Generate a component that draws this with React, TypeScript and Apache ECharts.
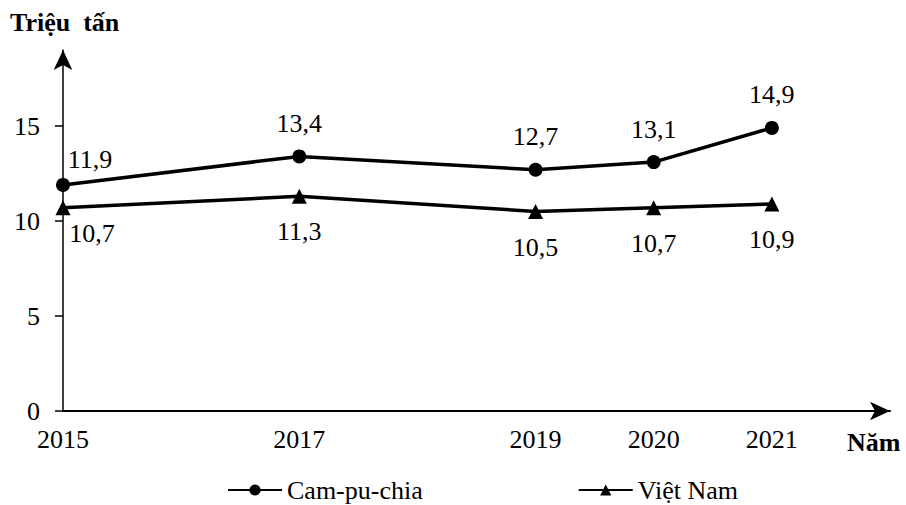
import React, { useEffect, useRef } from "react";
import * as echarts from "echarts";

const years = [2015, 2017, 2019, 2020, 2021];
const campuchia = [11.9, 13.4, 12.7, 13.1, 14.9];
const vietnam = [10.7, 11.3, 10.5, 10.7, 10.9];
const yTicks = [0, 5, 10, 15];
const seriesNames = ["Cam-pu-chia", "Việt Nam"];

const FONT = "Liberation Serif";

export default function App() {
  const ref = useRef<HTMLDivElement>(null);
  useEffect(() => {
    if (!ref.current) return;
    const chart = echarts.init(ref.current, null, { renderer: "svg" });
    const fmt = (v: number) => v.toFixed(1).replace(".", ",");
    const camData = years.map((y, i) => {
      const item: any = { value: [y, campuchia[i]] };
      if (i === 0) item.label = { offset: [27, 8] };
      return item;
    });
    const vnData = years.map((y, i) => {
      const item: any = { value: [y, vietnam[i]] };
      if (i === 0) item.label = { offset: [29, -10] };
      return item;
    });
    const txt = { color: "#000", fontSize: 26, fontFamily: FONT };
    chart.setOption({
      animation: false,
      textStyle: { fontFamily: FONT },
      grid: { left: 63, right: 16, top: 50, bottom: 94 },
      xAxis: {
        type: "value",
        min: 2015,
        max: 2022,
        splitLine: { show: false },
        axisLine: {
          show: true,
          symbol: ["none", "arrow"],
          symbolSize: [14, 20],
          lineStyle: { color: "#000", width: 2 },
        },
        axisTick: { show: false },
        axisLabel: {
          ...txt,
          customValues: years,
          formatter: (v: number) => String(v),
          margin: 15,
        },
      },
      yAxis: {
        type: "value",
        min: 0,
        max: 19,
        splitLine: { show: false },
        axisLine: {
          show: true,
          symbol: ["none", "arrow"],
          symbolSize: [14, 20],
          lineStyle: { color: "#000", width: 1.5 },
        },
        axisTick: {
          show: true,
          customValues: yTicks,
          length: 8,
          lineStyle: { color: "#000", width: 1.5 },
        },
        axisLabel: {
          ...txt,
          customValues: yTicks,
          margin: 23,
        },
      },
      legend: {
        left: 227,
        top: 477,
        padding: 0,
        itemGap: 155,
        itemWidth: 54,
        itemHeight: 14,
        textStyle: { ...txt, lineHeight: 26 },
        data: seriesNames,
      },
      series: [
        {
          name: seriesNames[0],
          type: "line",
          data: camData,
          symbol: "circle",
          symbolSize: 14,
          lineStyle: { color: "#000", width: 3.5 },
          itemStyle: { color: "#000" },
          label: {
            ...txt,
            show: true,
            position: "top",
            distance: 13,
            formatter: (p: any) => fmt(p.value[1]),
          },
        },
        {
          name: seriesNames[1],
          type: "line",
          data: vnData,
          symbol: "triangle",
          symbolSize: 15,
          lineStyle: { color: "#000", width: 3.5 },
          itemStyle: { color: "#000" },
          label: {
            ...txt,
            show: true,
            position: "bottom",
            distance: 15,
            formatter: (p: any) => fmt(p.value[1]),
          },
        },
      ],
      graphic: [
        {
          type: "text",
          left: 10,
          top: 9,
          style: { text: "Triệu  tấn", font: `bold 26px ${FONT}`, fill: "#000" },
        },
        {
          type: "text",
          left: 847,
          top: 429,
          style: { text: "Năm", font: `bold 26px ${FONT}`, fill: "#000" },
        },
      ],
    });
    return () => chart.dispose();
  }, []);
  return <div ref={ref} style={{ width: 906, height: 505, position: "absolute", left: 0, top: 0 }} />;
}
